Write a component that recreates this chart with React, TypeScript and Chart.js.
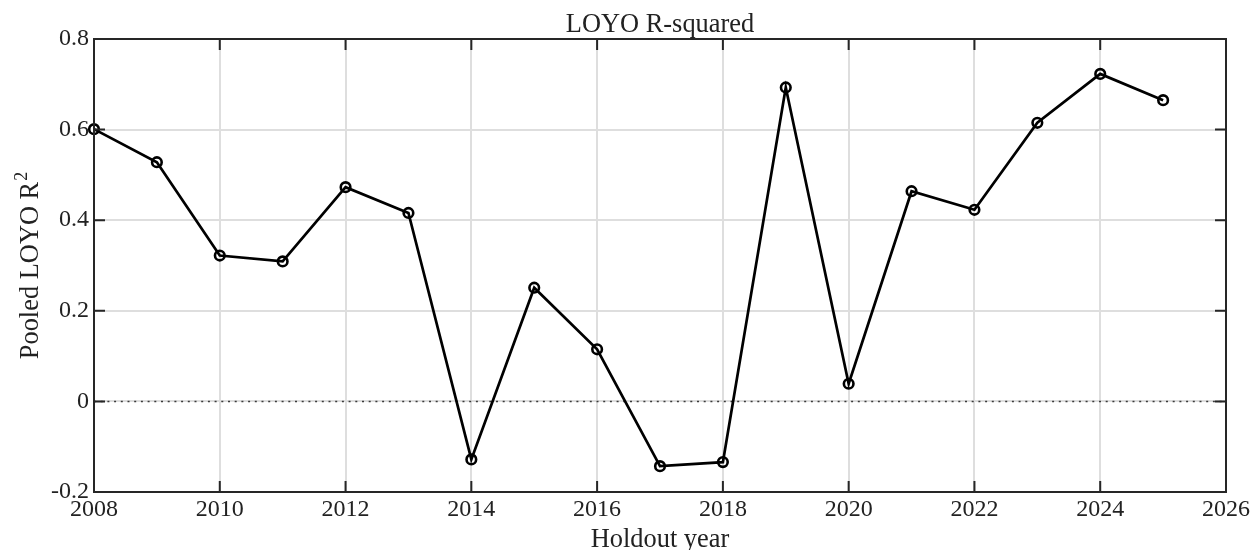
import React, { useEffect, useRef } from "react";
import { Chart, registerables } from "chart.js";

Chart.register(...registerables);

const years = [2008, 2009, 2010, 2011, 2012, 2013, 2014, 2015, 2016, 2017, 2018, 2019, 2020, 2021, 2022, 2023, 2024, 2025];
const r2 = [0.601, 0.528, 0.322, 0.309, 0.473, 0.416, -0.128, 0.251, 0.115, -0.143, -0.134, 0.693, 0.039, 0.464, 0.423, 0.615, 0.723, 0.665];
const zeroLineX = [2008, 2026];
const zeroLineY = [0, 0];
const xTicks = [2008, 2010, 2012, 2014, 2016, 2018, 2020, 2022, 2024, 2026];
const yTicks = [-0.2, 0, 0.2, 0.4, 0.6, 0.8];
const titleText = "LOYO R-squared";
const xLabel = "Holdout year";
const yLabelMain = "Pooled LOYO R";
const yLabelSup = "2";

const FONT = "'Liberation Serif', 'Times New Roman', serif";
const AXIS_COLOR = "#262626";

const decorPlugin = {
  id: "decor",
  afterDraw(chart: any) {
    const { ctx, chartArea } = chart;
    const { left, right, top, bottom } = chartArea;
    const xs = chart.scales.x;
    const ys = chart.scales.y;
    ctx.save();
    // box
    ctx.strokeStyle = AXIS_COLOR;
    ctx.lineWidth = 2;
    ctx.strokeRect(left, top, right - left, bottom - top);
    // inward ticks
    const tl = 11;
    ctx.beginPath();
    xTicks.forEach((v) => {
      const px = xs.getPixelForValue(v);
      ctx.moveTo(px, bottom);
      ctx.lineTo(px, bottom - tl);
      ctx.moveTo(px, top);
      ctx.lineTo(px, top + tl);
    });
    yTicks.forEach((v) => {
      const py = ys.getPixelForValue(v);
      ctx.moveTo(left, py);
      ctx.lineTo(left + tl, py);
      ctx.moveTo(right, py);
      ctx.lineTo(right - tl, py);
    });
    ctx.stroke();

    // title
    const cx = (left + right) / 2;
    ctx.fillStyle = "#222";
    ctx.textAlign = "center";
    ctx.textBaseline = "alphabetic";
    ctx.font = `26.4px ${FONT}`;
    ctx.fillText(titleText, cx, 31.7);
    // x label
    ctx.fillText(xLabel, cx, 546.7);
    // y label (rotated)
    ctx.translate(38, (top + bottom) / 2);
    ctx.rotate(-Math.PI / 2);
    ctx.font = `26.4px ${FONT}`;
    const w1 = ctx.measureText(yLabelMain).width;
    ctx.font = `18px ${FONT}`;
    const w2 = ctx.measureText(yLabelSup).width;
    const start = -(w1 + w2 + 1) / 2;
    ctx.textAlign = "left";
    ctx.font = `26.4px ${FONT}`;
    ctx.fillText(yLabelMain, start, 0);
    ctx.font = `18px ${FONT}`;
    ctx.fillText(yLabelSup, start + w1 + 1, -11);
    ctx.restore();
  },
};

export default function App() {
  const ref = useRef<HTMLCanvasElement>(null);
  useEffect(() => {
    const canvas = ref.current!;
    const chart = new Chart(canvas, {
      type: "line",
      data: {
        datasets: [
          {
            data: zeroLineX.map((x, i) => ({ x, y: zeroLineY[i] })),
            borderColor: "#3a3a3a",
            borderWidth: 1.5,
            borderDash: [2, 4.7],
            pointRadius: 0,
            order: 2,
          },
          {
            data: years.map((x, i) => ({ x, y: r2[i] })),
            borderColor: "#000",
            borderWidth: 2.7,
            pointRadius: 4.8,
            pointBorderWidth: 2.6,
            pointBorderColor: "#000",
            pointBackgroundColor: "rgba(0,0,0,0)",
            tension: 0,
            clip: false,
            order: 1,
          },
        ],
      },
      options: {
        responsive: false,
        animation: false,
        events: [],
        layout: { padding: { left: 0, right: 27, top: 39, bottom: 0 } },
        plugins: { legend: { display: false }, tooltip: { enabled: false }, title: { display: false } },
        scales: {
          x: {
            type: "linear",
            min: 2008,
            max: 2026,
            afterFit: (s: any) => {
              s.height = 58;
            },
            afterBuildTicks: (s: any) => {
              s.ticks = xTicks.map((v) => ({ value: v }));
            },
            grid: { color: "#dedede", lineWidth: 2, drawTicks: false },
            border: { display: false },
            ticks: {
              padding: 3,
              color: "#222",
              maxRotation: 0,
              autoSkip: false,
              font: { family: FONT, size: 24 },
              callback: (v: any) => String(v),
            },
          },
          y: {
            type: "linear",
            min: -0.2,
            max: 0.8,
            afterFit: (s: any) => {
              s.width = 94;
            },
            afterBuildTicks: (s: any) => {
              s.ticks = yTicks.map((v) => ({ value: v }));
            },
            grid: { color: "#dedede", lineWidth: 2, drawTicks: false },
            border: { display: false },
            ticks: {
              padding: 5,
              color: "#222",
              font: { family: FONT, size: 24 },
              callback: (v: any) => String(Number(Number(v).toFixed(1))),
            },
          },
        },
      },
      plugins: [decorPlugin],
    });
    return () => chart.destroy();
  }, []);
  return (
    <div style={{ position: "absolute", left: 0, top: 0, width: 1253, height: 550, background: "#fff" }}>
      <canvas ref={ref} width={1253} height={550} style={{ display: "block" }} />
    </div>
  );
}
